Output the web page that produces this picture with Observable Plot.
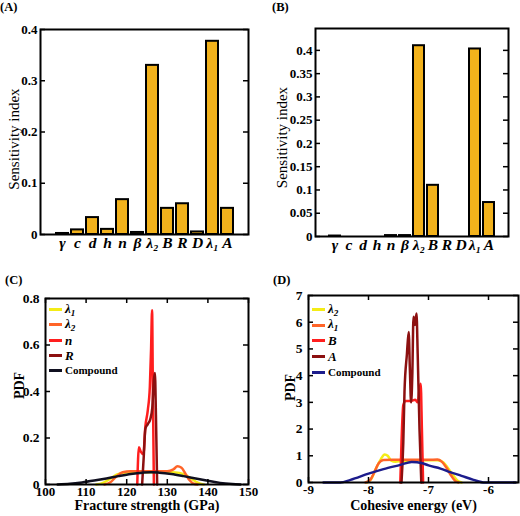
<!DOCTYPE html>
<html><head><meta charset="utf-8">
<script src="https://cdn.jsdelivr.net/npm/d3@7"></script>
<script src="https://cdn.jsdelivr.net/npm/@observablehq/plot@0.6"></script>
<style>
body{margin:0;background:#fff;}
#root{position:relative;width:520px;height:516px;overflow:hidden;font-family:'Liberation Serif','Times New Roman',serif;color:#000;}
.pan{position:absolute;width:260px;height:258px;}
.pan svg{overflow:visible;}
.plab{position:absolute;font-weight:bold;font-size:12.5px;line-height:1;}
.leg{position:absolute;height:14px;display:flex;align-items:center;font-weight:bold;line-height:1;white-space:nowrap;}
.leg .sw{width:13px;height:3px;margin-right:3px;}
.leg sub{font-size:0.7em;vertical-align:-0.3em;}
</style></head><body><div id="root"></div>
<script>
// ---- data ----
const params = ["γ","c","d","h","n","β","λ₂","B","R","D","λ₁","A"];
const sensA = [0.002,0.009,0.033,0.010,0.068,0.004,0.330,0.051,0.060,0.005,0.377,0.051];
const sensB = [0.001,0,0,0,0.002,0.002,0.410,0.110,0,0,0.403,0.073];
const yTicksA = [0,0.1,0.2,0.3,0.4];
const yTicksB = [0,0.05,0.1,0.15,0.2,0.25,0.3,0.35,0.4];
const xTicksC = [100,110,120,130,140,150];
const yTicksC = [0,0.2,0.4,0.6,0.8];
const xTicksD = [-9,-8,-7,-6];
const yTicksD = [0,1,2,3,4,5,6,7];

// panel C: fracture strength PDFs
const cLambda1 = [[112.5,0],[114,0.006],[116,0.025],[117.5,0.042],[119,0.05],[121,0.053],[126,0.053],[131,0.053],[133,0.05],[134.5,0.04],[136,0.024],[137.5,0.008],[139,0]];
const cLambda2 = [[114.5,0],[116,0.01],[117.5,0.035],[119,0.053],[121,0.057],[126,0.057],[130,0.057],[131.5,0.065],[132.5,0.078],[133.5,0.072],[134.5,0.045],[135.5,0.018],[136.5,0.003],[137.5,0]];
const cN = [[122.6,0],[123.0,0.16],[123.5,0.14],[124.1,0.13],[124.6,0.25],[125.2,0.32],[125.7,0.42],[126.0,0.58],[126.25,0.75],[126.45,0.4],[126.7,0]];
const cR = [[123.8,0],[124.2,0.12],[124.6,0.24],[125.2,0.26],[125.8,0.28],[126.3,0.33],[126.7,0.45],[126.95,0.48],[127.2,0.3],[127.5,0]];
const cCompound = [[103,0],[106,0.003],[109,0.009],[112,0.017],[115,0.026],[118,0.036],[121,0.045],[124,0.051],[126,0.053],[128,0.051],[131,0.045],[134,0.036],[137,0.026],[140,0.016],[143,0.007],[146,0.002],[148,0]];

// panel D: cohesive energy PDFs
const dLambda2 = [[-8.02,0],[-7.95,0.15],[-7.87,0.55],[-7.8,0.85],[-7.73,1.05],[-7.68,1.0],[-7.62,0.82],[-7.55,0.78],[-7.45,0.8],[-7.2,0.82],[-7.0,0.83],[-6.85,0.83],[-6.75,0.75],[-6.68,0.55],[-6.6,0.3],[-6.52,0.08],[-6.45,0]];
const dLambda1 = [[-8.05,0],[-7.97,0.1],[-7.9,0.4],[-7.83,0.72],[-7.75,0.84],[-7.6,0.85],[-7.3,0.85],[-7.0,0.85],[-6.85,0.86],[-6.78,0.78],[-6.7,0.55],[-6.62,0.25],[-6.55,0.05],[-6.5,0]];
const dB = [[-7.47,0],[-7.45,1.5],[-7.42,2.9],[-7.38,3.05],[-7.3,3.05],[-7.22,3.1],[-7.18,3.0],[-7.15,3.5],[-7.13,3.7],[-7.11,2.0],[-7.09,0]];
const dA = [[-7.45,0],[-7.42,1.5],[-7.4,3.4],[-7.36,4.8],[-7.33,5.63],[-7.31,4.2],[-7.29,3.0],[-7.27,4.0],[-7.25,6.2],[-7.225,5.9],[-7.2,6.33],[-7.18,4.8],[-7.15,2.0],[-7.12,0]];
const dCompound = [[-8.75,0],[-8.47,0],[-8.3,0.1],[-8.0,0.33],[-7.75,0.5],[-7.47,0.66],[-7.28,0.77],[-7.1,0.72],[-7.0,0.64],[-6.8,0.52],[-6.64,0.39],[-6.45,0.25],[-6.25,0.1],[-6.06,0],[-5.55,0]];

const legendC = ["λ<sub>1</sub>","λ<sub>2</sub>","n","R","Compound"];
const legendD = ["λ<sub>2</sub>","λ<sub>1</sub>","B","A","Compound"];
const colorsC = ["#F4EC16","#FF6428","#FF1E1E","#8C1010","#101020"];
const colorsD = ["#F4EC16","#FF6428","#FF1E1E","#8C1010","#1C1C8C"];

// ---- helpers ----
const root = document.getElementById("root");
const FONT = "'Liberation Serif','Times New Roman',serif";
function place(el, x, y){ const d=document.createElement("div"); d.className="pan"; d.style.left=x+"px"; d.style.top=y+"px"; d.appendChild(el); root.appendChild(d); }
function inTicksY(ticks, fw){ return [
  Plot.tickY(ticks,{y:d=>d, insetRight:fw-5, stroke:"black", strokeWidth:1.5}),
  Plot.tickY(ticks,{y:d=>d, insetLeft:fw-5, stroke:"black", strokeWidth:1.5})]; }
function inTicksX(ticks, fh){ return [
  Plot.tickX(ticks,{x:d=>d, insetTop:fh-5, stroke:"black", strokeWidth:1.5}),
  Plot.tickX(ticks,{x:d=>d, insetBottom:fh-5, stroke:"black", strokeWidth:1.5})]; }

function barPanel(vals, yTicks, ymax, m, labDx, labDy, padOuter){
  const W=260,H=258, fw=W-m.l-m.r;
  const rows = params.map((p,i)=>({p, v:vals[i]}));
  return Plot.plot({
    width:W, height:H, marginLeft:m.l, marginRight:m.r, marginTop:m.t, marginBottom:m.b,
    style:{fontFamily:FONT, background:"transparent", color:"black"},
    x:{type:"band", domain:params, paddingInner:0.2, paddingOuter:padOuter},
    y:{domain:[0,ymax]},
    marks:[
      Plot.barY(rows,{x:"p", y:"v", fill:"#F2B21C", stroke:"black", strokeWidth:2}),
      ...inTicksY(yTicks, fw),
      Plot.frame({stroke:"black", strokeWidth:2}),
      Plot.axisY({ticks:yTicks, tickSize:0, tickPadding:3, tickFormat:d=>String(d), label:null, fontSize:13, fontWeight:"bold"}),
      Plot.axisX({tickSize:0, tickPadding:2, label:null, fontSize:15.5, fontWeight:"bold", fontStyle:"italic"}),
      Plot.text(["Sensitivity index"],{frameAnchor:"left", dx:labDx, dy:labDy, rotate:-90, textAnchor:"middle", lineAnchor:"middle", fontSize:15})
    ]
  });
}

function pdfPanel(series, colors, xDom, xTicks, yDom, yTicks, m, xlabel, xl, yl){
  const W=260,H=258, fw=W-m.l-m.r, fh=H-m.t-m.b;
  return Plot.plot({
    width:W, height:H, marginLeft:m.l, marginRight:m.r, marginTop:m.t, marginBottom:m.b,
    style:{fontFamily:FONT, background:"transparent", color:"black"},
    x:{domain:xDom}, y:{domain:yDom},
    marks:[
      ...series.map((s,i)=>Plot.line(s,{x:d=>d[0], y:d=>d[1], stroke:colors[i], strokeWidth:2.5, curve:"monotone-x"})),
      ...inTicksY(yTicks, fw),
      ...inTicksX(xTicks, fh),
      Plot.frame({stroke:"black", strokeWidth:2}),
      Plot.axisY({ticks:yTicks, tickSize:0, tickPadding:6, tickFormat:d=>String(d), label:null, fontSize:13.5, fontWeight:"bold"}),
      Plot.axisX({ticks:xTicks, tickSize:0, tickPadding:2, tickFormat:d=>String(d), label:null, fontSize:13, fontWeight:"bold"}),
      Plot.text([xlabel],{frameAnchor:"bottom", dy:xl, textAnchor:"middle", lineAnchor:"middle", fontSize:14, fontWeight:"bold"}),
      Plot.text(["PDF"],{frameAnchor:"left", dx:yl[0], dy:yl[1], rotate:-90, textAnchor:"middle", lineAnchor:"middle", fontSize:14, fontWeight:"bold"})
    ]
  });
}

place(barPanel(sensA, yTicksA, 0.4, {l:40,r:12,t:29,b:24}, -26.7, 7, 0.83), 0, 0);
place(barPanel(sensB, yTicksB, 0.447, {l:55,r:12,t:28,b:22}, -33.3, 5, 0.69), 260, 0);
// drawing order as in the original: λ, λ, spikes, then compound on top
place(pdfPanel([cLambda1,cLambda2,cN,cR,cCompound], colorsC,
  [100,150], xTicksC, [0,0.8], yTicksC, {l:45,r:12,t:40,b:32}, "Fracture strength (GPa)", 21.5, [-26,-6]), 0, 258);
place(pdfPanel([dLambda2,dLambda1,dB,dA,dCompound], colorsD,
  [-9,-5.5], xTicksD, [0,7], yTicksD, {l:48,r:2,t:37,b:34}, "Cohesive energy (eV)", 23, [-18,-1.5]), 260, 258);

// panel labels
[["(A)",0,1],["(B)",272,1],["(C)",5,274],["(D)",273,274]].forEach(([t,x,y])=>{
  const d=document.createElement("div"); d.className="plab"; d.textContent=t; d.style.left=x+"px"; d.style.top=y+"px"; root.appendChild(d);
});

// legends
function legend(labels, colors, x, ys){
  labels.forEach((lab,i)=>{
    const d=document.createElement("div"); d.className="leg"; d.style.left=x+"px"; d.style.top=(ys[i]-7)+"px";
    const sw=document.createElement("span"); sw.className="sw"; sw.style.background=colors[i]; d.appendChild(sw);
    const t=document.createElement("span"); t.innerHTML=lab;
    if(lab==="Compound"){ t.style.fontSize="11px"; } else { t.style.fontSize="13px"; t.style.fontStyle="italic"; }
    d.appendChild(t); root.appendChild(d);
  });
}
legend(legendC, colorsC, 49, [309.7,324.9,340.1,355.3,370.5]);
legend(legendD, colorsD, 312, [309.7,325.3,340.9,356.5,372.1]);
</script></body></html>
